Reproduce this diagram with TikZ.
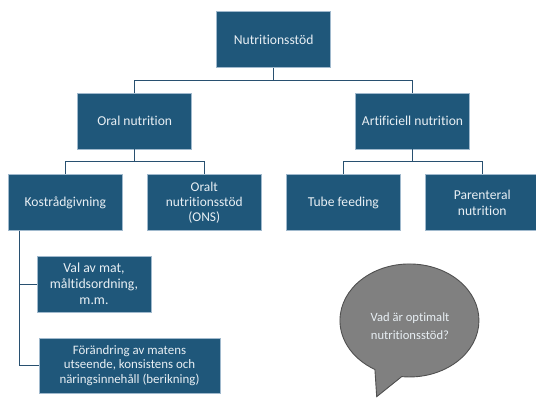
\documentclass[tikz,border=0pt]{standalone}
\usepackage{fontspec}
\setmainfont{Carlito}[Ligatures=NoCommon]
\begin{document}
\begin{tikzpicture}[x=1pt,y=-1pt,
  box/.style={rectangle, fill=boxfill, draw=boxedge, line width=0.8pt, text=boxtext,
    align=center, inner sep=2pt, minimum width=114pt, minimum height=56pt,
    font=\fontsize{13.6}{15.8}\selectfont},
  conn/.style={draw=linecol, line width=1pt},
  bubble/.style={fill=bubblefill, draw=bubbleedge, line width=0.9pt}]
\definecolor{boxfill}{RGB}{31,87,122}
\definecolor{boxedge}{RGB}{160,185,205}
\definecolor{boxtext}{RGB}{232,239,244}
\definecolor{linecol}{RGB}{40,80,112}
\definecolor{bubblefill}{RGB}{128,128,128}
\definecolor{bubbleedge}{RGB}{80,80,80}
\useasboundingbox (0,0) rectangle (536,397);
\begin{scope}
\clip (0,0) rectangle (536,397);
\node[box] (top) at (273.7,39.7) {Nutritionsstöd};
\node[box] (oral) at (134.7,121) {Oral nutrition};
\node[box] (art) at (412.5,121) {Artificiell nutrition};
\node[box, minimum height=56.4pt] (kost) at (65.3,202.5) {Kostrådgivning};
\node[box, minimum height=56.4pt, font=\fontsize{13.4}{15}\selectfont] (oralt) at (204.3,202.5) {Oralt\\nutritionsstöd\\(ONS)};
\node[box, minimum height=56.4pt] (tube) at (343.3,202.5) {Tube feeding};
\node[box, minimum height=56.4pt, font=\fontsize{13.6}{16.3}\selectfont] (paren) at (482.3,202.5) {Parenteral\\nutrition};
\node[box, minimum width=114pt, minimum height=56pt, font=\fontsize{13.8}{16}\selectfont] (val) at (94,284) {Val av mat,\\måltidsordning,\\m.m.};
\node[box, minimum width=181pt, minimum height=55pt, font=\fontsize{12.9}{14.4}\selectfont] (for) at (129.5,365.5) {Förändring av matens\\utseende, konsistens och\\näringsinnehåll (berikning)};
\coordinate (j1) at (273.7,80.7);
\coordinate (j2) at (134.7,161.7);
\coordinate (j3) at (412.5,161.7);
\coordinate (k0) at (19.3,230.7);
\draw[conn] (top.south) -- (j1) -| (oral.north);
\draw[conn] (j1) -| (art.north);
\draw[conn] (oral.south) -- (j2) -| (kost.north);
\draw[conn] (j2) -| (oralt.north);
\draw[conn] (art.south) -- (j3) -| (tube.north);
\draw[conn] (j3) -| (paren.north);
\draw[conn] (k0) |- (val.west);
\draw[conn] (k0) |- (for.west);
\draw[bubble] (401.7,376.6) arc[start angle=96.4, end angle=-240.2, x radius=69.5, y radius=56.5] -- (376.7,396.7) -- cycle;
\node[text=boxtext, align=center, font=\fontsize{12.6}{17.5}\selectfont] (q) at (410,326) {Vad är optimalt\\nutritionsstöd?};
\end{scope}
\end{tikzpicture}
\end{document}
